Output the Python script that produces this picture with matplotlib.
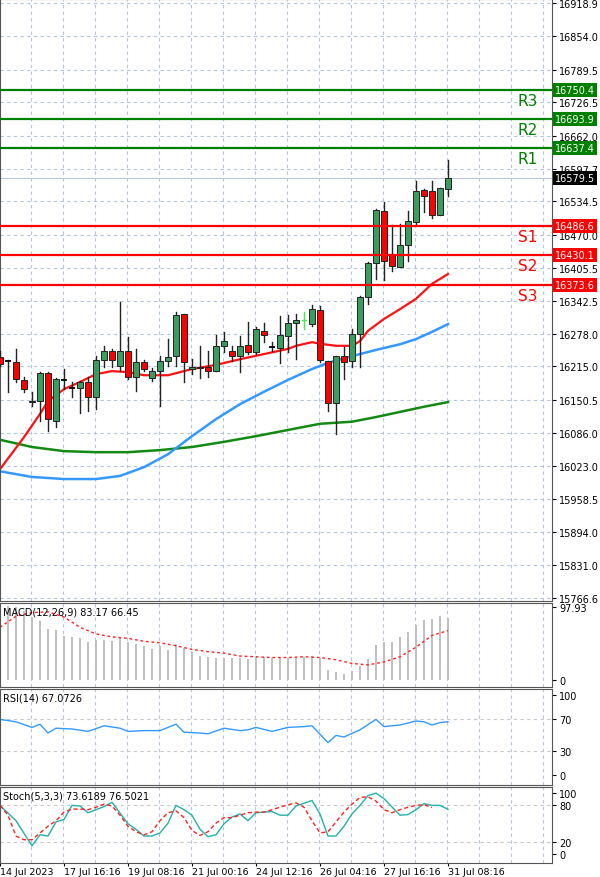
import matplotlib.pyplot as plt
from matplotlib.patches import Rectangle

# ---- price data (one candle per bar) ----
opens = [16233, 16224, 16224, 16189, 16149, 16148, 16202, 16109, 16188, 16174,
         16173, 16185, 16156, 16228, 16245, 16216, 16245, 16195, 16224, 16193,
         16206, 16226, 16235, 16317, 16210, 16212, 16214, 16206, 16255, 16245,
         16235, 16257, 16243, 16284, 16253, 16251, 16274, 16299, 16303, 16297,
         16324, 16226, 16144, 16235, 16226, 16278, 16350, 16415, 16516, 16431,
         16408, 16450, 16495, 16557, 16555, 16508, 16559]
highs = [16245, 16227, 16249, 16195, 16166, 16204, 16204, 16193, 16210, 16185,
         16186, 16195, 16235, 16255, 16249, 16340, 16272, 16249, 16228, 16212,
         16235, 16268, 16321, 16317, 16229, 16255, 16245, 16276, 16282, 16255,
         16274, 16301, 16291, 16299, 16262, 16313, 16315, 16317, 16321, 16334,
         16332, 16226, 16235, 16253, 16288, 16351, 16417, 16520, 16534, 16489,
         16491, 16516, 16574, 16559, 16574, 16561, 16615]
lows = [16216, 16165, 16185, 16166, 16138, 16109, 16090, 16098, 16171, 16156,
        16125, 16129, 16133, 16214, 16214, 16206, 16191, 16167, 16206, 16187,
        16138, 16216, 16216, 16185, 16200, 16193, 16195, 16206, 16243, 16226,
        16204, 16239, 16239, 16262, 16245, 16222, 16243, 16229, 16288, 16293,
        16224, 16129, 16084, 16191, 16214, 16214, 16336, 16384, 16382, 16400,
        16408, 16419, 16491, 16514, 16503, 16508, 16545]
closes = [16220, 16225, 16191, 16171, 16147, 16202, 16113, 16191, 16189, 16173,
          16185, 16156, 16228, 16245, 16228, 16245, 16195, 16224, 16210, 16206,
          16226, 16233, 16315, 16224, 16214, 16214, 16206, 16255, 16264, 16235,
          16255, 16243, 16288, 16276, 16252, 16276, 16299, 16305, 16305, 16326,
          16228, 16144, 16235, 16224, 16278, 16350, 16415, 16518, 16419, 16410,
          16450, 16497, 16555, 16545, 16508, 16561, 16579.5]

# ---- moving averages (bar index, value) ----
ma_fast_idx = [0, 3, 5, 6, 8, 10, 12, 14, 16, 18, 21, 24, 27, 30, 33, 36, 37, 39,
               40, 42, 44, 45, 46, 48, 50, 52, 54, 56]
ma_fast = [16016, 16078, 16123, 16148, 16171, 16185, 16200, 16206, 16204, 16198,
           16198, 16210, 16218, 16229, 16239, 16249, 16255, 16262, 16259, 16255,
           16255, 16264, 16284, 16307, 16326, 16346, 16375, 16394]
ma_mid_idx = [0, 4, 8, 12, 15, 18, 21, 24, 27, 30, 33, 36, 39, 41, 44, 47, 50, 52, 54, 56]
ma_mid = [16012, 16001, 15997, 15997, 16003, 16020, 16045, 16080, 16113, 16142,
          16166, 16189, 16210, 16222, 16235, 16247, 16258, 16268, 16282, 16297]
ma_slow_idx = [0, 4, 8, 12, 16, 20, 24, 28, 32, 36, 40, 42, 44, 47, 50, 53, 56]
ma_slow = [16073, 16059, 16051, 16049, 16049, 16053, 16059, 16069, 16080, 16092,
           16104, 16106, 16108, 16117, 16127, 16137, 16146]

resistance = [("R1", 16637.4), ("R2", 16693.9), ("R3", 16750.4)]
support = [("S1", 16486.6), ("S2", 16430.1), ("S3", 16373.6)]
price_ticks = [16918.9, 16854.0, 16789.5, 16726.5, 16662.0, 16597.7, 16534.5,
               16470.0, 16405.5, 16342.5, 16278.0, 16215.0, 16150.5, 16086.0,
               16023.0, 15958.5, 15894.0, 15831.0, 15766.6]

# ---- indicators ----
macd_hist = [None, 100, 98, 93, 85, 79, 69, 67, 59, 58, 56, 51, 54, 54, 53, 56, 51,
             48, 45, 42, 45, 40, 48, 43, 38, 32, 31, 30, 29, 29, 29, 28, 31, 31, 30,
             29, 30, 30, 31, 32, 30, 13, 10, 7, 12, 18, 28, 47, 51, 51, 58, 64, 74,
             81, 82, 86, 83.17]
macd_sig_idx = list(range(0, 57, 2))
macd_sig = [71, 86, 91, 92, 85, 71, 62, 58, 56, 52, 50, 46, 41, 38, 36, 32, 31, 30,
            30, 31, 30, 27, 22, 20, 24, 31, 44, 60, 66.45]

rsi_idx = [0, 2, 4, 5, 6, 7, 9, 11, 13, 15, 16, 18, 20, 22, 23, 25, 26, 28, 30, 31,
           32, 34, 36, 38, 39, 41, 42, 43, 45, 47, 48, 50, 52, 53, 54, 55, 56]
rsi = [70, 67, 60, 64, 53, 59, 58, 55, 62, 59, 55, 56, 56, 64, 54, 53, 52, 59, 56, 57,
       60, 55, 60, 61, 62, 41, 50, 48, 57, 70, 61, 63, 68, 67, 63, 66, 67.07]

stoch_k_idx = [0, 2, 4, 5, 6, 7, 8, 9, 10, 11, 13, 14, 16, 17, 18, 19, 20, 21, 22,
               23, 24, 25, 26, 27, 28, 29, 30, 31, 32, 34, 35, 36, 37, 39, 40, 41,
               42, 43, 44, 45, 46, 47, 48, 50, 51, 52, 53, 54, 55, 56]
stoch_k = [80, 55, 14, 32, 30, 53, 57, 80, 79, 68, 78, 85, 50, 41, 30, 30, 35, 51, 80,
           73, 64, 41, 29, 32, 50, 61, 66, 55, 68, 70, 64, 64, 79, 88, 66, 30, 30, 46,
           66, 80, 96, 100, 91, 64, 65, 73, 83, 80, 80, 73.62]
stoch_d = [80, 64, 30, 24, 24, 35, 46, 55, 69, 74, 74, 73, 77, 82, 79, 64, 46, 37, 32,
           37, 55, 68, 71, 60, 39, 31, 37, 51, 60, 60, 64, 68, 69, 69, 73, 77, 81, 84,
           77, 55, 35, 37, 53, 69, 82, 93, 94, 87, 73, 68, 73, 77, 80, 81, 76.50]

date_idx = [0, 8, 16, 24, 32, 40, 48, 56]
date_labels = ["14 Jul 2023", "17 Jul 16:16", "19 Jul 08:16", "21 Jul 00:16",
               "24 Jul 12:16", "26 Jul 04:16", "27 Jul 16:16", "31 Jul 08:16"]

W, H = 600, 878
GRID = "#b4c4dc"
UP, DOWN = "#3a9d5d", "#ff0000"
XMAX = 552 / 8


def panel(top, bottom):
    ax = fig.add_axes([0, 1 - bottom / H, 552 / W, (bottom - top) / H])
    ax.set_xlim(0, XMAX)
    ax.set_xticks([])
    ax.yaxis.tick_right()
    ax.tick_params(axis="y", labelsize=7, length=3, pad=2)
    for x in range(4, int(XMAX) + 1, 4):
        ax.axvline(x - 0.1, color=GRID, lw=0.8, ls=(0, (3, 3)), zorder=0)
    for s in ax.spines.values():
        s.set_color("#555555")
    return ax


fig = plt.figure(figsize=(W / 100, H / 100), dpi=100)

# ---- main price panel ----
ax = panel(0, 602)
ax.set_ylim(15760.8, 16926.6)
ax.set_yticks(price_ticks)
ax.set_yticklabels([f"{v:.1f}" for v in price_ticks])
for v in price_ticks:
    ax.axhline(v, color=GRID, lw=0.8, ls=(0, (3, 3)), zorder=0)

for i, (o, h, l, c) in enumerate(zip(opens, highs, lows, closes)):
    if i == 38:
        ax.plot([i, i], [l, h], color="#44ee44", lw=1, zorder=3)
        ax.plot([i - 0.3, i + 0.3], [c, c], color="#44ee44", lw=1, zorder=3)
        continue
    ax.plot([i, i], [l, h], color="#222222", lw=1, zorder=3)
    lo, hi = min(o, c), max(o, c)
    if hi - lo < 2:
        ax.plot([i - 0.3, i + 0.3], [c, c], color="#111111", lw=1.4, zorder=4)
    else:
        ax.add_patch(Rectangle((i - 0.34, lo), 0.68, hi - lo,
                               facecolor=UP if c > o else DOWN,
                               edgecolor="#222222", lw=0.7, zorder=4))

ax.plot(ma_slow_idx, ma_slow, color="#138a13", lw=1.8, zorder=2)
ax.plot(ma_mid_idx, ma_mid, color="#3399ff", lw=1.8, zorder=2)
ax.plot(ma_fast_idx, ma_fast, color="#ff1111", lw=1.6, zorder=2)

ax.axhline(closes[-1], color="#b8c8e0", lw=0.8, zorder=1)
for name, v in resistance + support:
    col = "#008000" if name[0] == "R" else "#ff0000"
    ax.axhline(v, color=col, lw=1.6, zorder=5)
    ax.text(66, v - 6, name, color=col, fontsize=11, ha="center", va="top")
    ax.text(1.005, v, f"{v:.1f}", transform=ax.get_yaxis_transform(), color="white",
            fontsize=7, va="center", ha="left",
            bbox=dict(facecolor=col, edgecolor="none", pad=1.5), clip_on=False)
ax.text(1.005, closes[-1], f"{closes[-1]:.1f}", transform=ax.get_yaxis_transform(),
        color="white", fontsize=7, va="center", ha="left",
        bbox=dict(facecolor="black", edgecolor="none", pad=1.5), clip_on=False)

# ---- MACD ----
ax = panel(604, 688)
ax.set_ylim(-10, 104)
ax.set_yticks([97.93, 0])
ax.set_yticklabels(["97.93", "0"])
for i, v in enumerate(macd_hist):
    if v is not None:
        ax.bar(i, v, width=0.2, color="#c0c0c0", zorder=1)
ax.plot(macd_sig_idx, macd_sig, color="#ff2222", lw=1, ls=(0, (2, 2)), zorder=2)
ax.text(0.005, 0.96, "MACD(12,26,9) 83.17 66.45", transform=ax.transAxes,
        fontsize=7, va="top")

# ---- RSI ----
ax = panel(690, 786)
ax.set_ylim(-12, 108)
ax.set_yticks([100, 70, 30, 0])
for v in (70, 30):
    ax.axhline(v, color="#c8c8c8", lw=0.8, ls=(0, (3, 3)), zorder=0)
ax.plot(rsi_idx, rsi, color="#3399ff", lw=1)
ax.text(0.005, 0.96, "RSI(14) 67.0726", transform=ax.transAxes, fontsize=7, va="top")

# ---- Stochastic ----
ax = panel(788, 864)
ax.set_ylim(-14, 110)
ax.set_yticks([100, 80, 20, 0])
for v in (80, 20):
    ax.axhline(v, color="#c8c8c8", lw=0.8, ls=(0, (3, 3)), zorder=0)
ax.plot(stoch_k_idx, stoch_k, color="#20b2aa", lw=1)
ax.plot(range(len(stoch_d)), stoch_d, color="#ff2222", lw=1, ls=(0, (3, 2)))
ax.text(0.005, 0.96, "Stoch(5,3,3) 73.6189 76.5021", transform=ax.transAxes,
        fontsize=7, va="top")

ax.set_xticks(date_idx)
ax.set_xticklabels(date_labels, fontsize=6.8, ha="left")
ax.tick_params(axis="x", length=2, pad=1)

fig.savefig("out.png", dpi=100)
